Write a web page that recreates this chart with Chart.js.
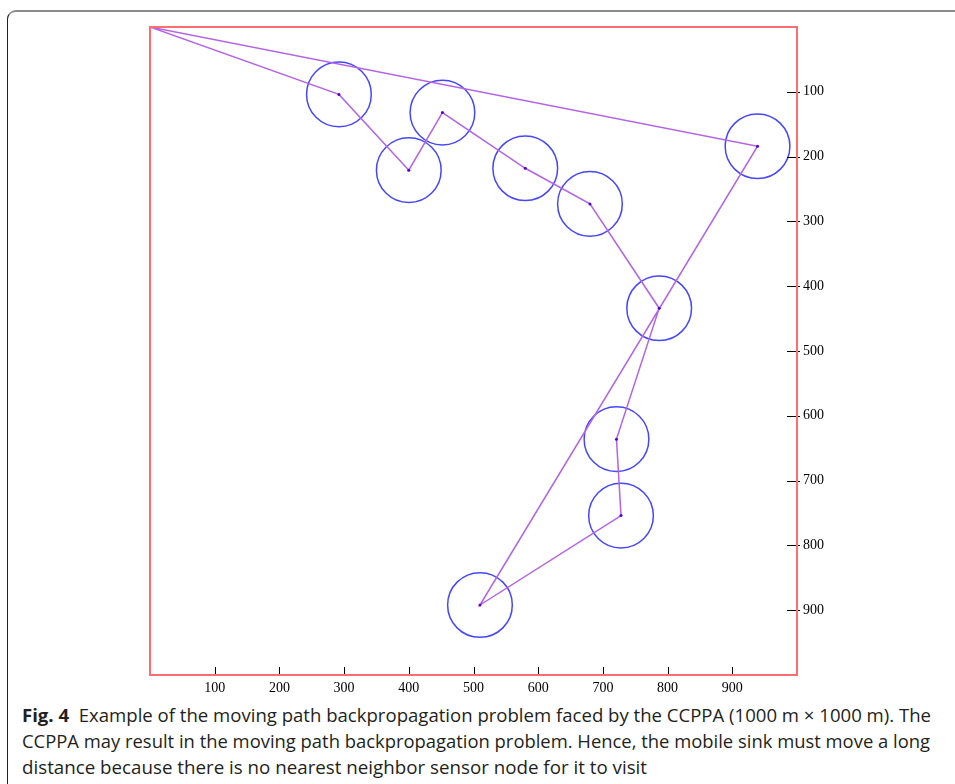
<!DOCTYPE html>
<html>
<head>
<meta charset="utf-8">
<script src="https://cdn.jsdelivr.net/npm/chart.js@4.4.1/dist/chart.umd.min.js"></script>
<style>
  body { margin: 0; background: #fff; width: 955px; height: 784px; overflow: hidden; position: relative; }
  #frame { position: absolute; left: 7px; top: 10px; width: 960px; height: 790px;
           border-top: 2px solid #8a8a8a; border-left: 1px solid #222; border-top-left-radius: 9px; }
  #chartBox { position: absolute; left: 0; top: 0; width: 955px; height: 700px; }
  .cap { position: absolute; left: 22px; white-space: nowrap; font-family: "Open Sans", sans-serif;
         font-size: 18px; color: #231f20; transform-origin: 0 0; }
  .cap b { font-weight: 700; }
</style>
</head>
<body>
<div id="frame"></div>
<div id="chartBox"><canvas id="pathChart" width="955" height="700"></canvas></div>
<div class="cap" id="cap1" data-w="909" style="top:703px"><b>Fig. 4</b>&nbsp;&nbsp;Example of the moving path backpropagation problem faced by the CCPPA (1000 m × 1000 m). The</div>
<div class="cap" id="cap2" data-w="908" style="top:729px">CCPPA may result in the moving path backpropagation problem. Hence, the mobile sink must move a long</div>
<div class="cap" id="cap3" data-w="625" style="top:755px">distance because there is no nearest neighbor sensor node for it to visit</div>
<script>
"use strict";

// sink start position
const sinkX = 0;
const sinkY = 0;

// sensor node (cluster head) positions, in metres
const nodeX = [292, 400, 452, 580, 680, 787, 721, 728, 510, 939];
const nodeY = [104, 221, 132, 218, 273, 434, 636, 754, 892, 184];

// communication range of each node, in metres
const nodeRange = 50;

// order the mobile sink visits the nodes
const visitOrder = [0, 1, 2, 3, 4, 5, 6, 7, 8, 9];

// tick labels on both axes
const xTicks = [100, 200, 300, 400, 500, 600, 700, 800, 900];
const yTicks = [100, 200, 300, 400, 500, 600, 700, 800, 900];

// build the path: sink -> nodes -> back to sink
const pathPoints = [{ x: sinkX, y: sinkY }];
visitOrder.forEach(function(i) {
    pathPoints.push({ x: nodeX[i], y: nodeY[i] });
});
pathPoints.push({ x: sinkX, y: sinkY });

const nodePoints = nodeX.map(function(x, i) {
    return { x: x, y: nodeY[i] };
});

// draws the red box and the inward tick marks
const frameAndTicks = {
    id: 'frameAndTicks',
    afterDraw: function(chart) {
        const c = chart.ctx;
        const a = chart.chartArea;
        const xs = chart.scales.x;
        const ys = chart.scales.y;
        c.save();
        c.strokeStyle = '#000';
        c.lineWidth = 1;
        c.beginPath();
        xTicks.forEach(function(v) {
            const px = Math.round(xs.getPixelForValue(v)) + 0.5;
            c.moveTo(px, a.bottom);
            c.lineTo(px, a.bottom - 8);
        });
        yTicks.forEach(function(v) {
            const py = Math.round(ys.getPixelForValue(v)) + 0.5;
            c.moveTo(a.right - 10, py);
            c.lineTo(a.right + 3, py);
        });
        c.stroke();
        c.strokeStyle = 'rgb(255, 110, 110)';
        c.lineWidth = 2;
        c.strokeRect(a.left, a.top, a.right - a.left, a.bottom - a.top);
        c.restore();
    }
};

const ctx = document.getElementById('pathChart').getContext('2d');
new Chart(ctx, {
    type: 'scatter',
    data: {
        datasets: [
            {
                label: 'Moving path',
                data: pathPoints,
                showLine: true,
                borderColor: 'rgb(180, 100, 230)',
                borderWidth: 1.5,
                pointRadius: 1.5,
                pointBackgroundColor: 'rgb(90, 0, 200)',
                pointBorderWidth: 0,
                order: 1
            },
            {
                label: 'Range',
                data: nodePoints,
                showLine: false,
                backgroundColor: 'rgba(0, 0, 0, 0)',
                borderColor: 'rgb(70, 70, 255)',
                borderWidth: 1.5,
                pointRadius: function(c) {
                    const xs = c.chart.scales.x;
                    return xs.getPixelForValue(nodeRange) - xs.getPixelForValue(0);
                },
                order: 2
            }
        ]
    },
    options: {
        responsive: false,
        animation: false,
        devicePixelRatio: 1,
        layout: { padding: { left: 150, top: 27, right: 0, bottom: 0 } },
        plugins: {
            legend: { display: false },
            tooltip: { enabled: false }
        },
        scales: {
            x: {
                type: 'linear',
                min: 0,
                max: 1000,
                grid: { display: false, drawTicks: false },
                border: { display: false },
                afterBuildTicks: function(s) { s.ticks = xTicks.map(function(v) { return { value: v }; }); },
                afterFit: function(s) { s.height = 25; },
                ticks: {
                    padding: 5,
                    maxRotation: 0,
                    autoSkip: false,
                    color: '#000',
                    font: { family: '"Liberation Serif", serif', size: 14 }
                }
            },
            y: {
                type: 'linear',
                position: 'right',
                reverse: true,
                min: 0,
                max: 1000,
                grid: { display: false, drawTicks: false },
                border: { display: false },
                afterBuildTicks: function(s) { s.ticks = yTicks.map(function(v) { return { value: v }; }); },
                afterFit: function(s) { s.width = 158; },
                ticks: {
                    padding: 6,
                    autoSkip: false,
                    color: '#000',
                    font: { family: '"Liberation Serif", serif', size: 14 }
                }
            }
        }
    },
    plugins: [frameAndTicks]
});

// squeeze caption lines to the width they have in the figure
document.querySelectorAll('.cap').forEach(function(el) {
    const w = el.getBoundingClientRect().width;
    const target = parseFloat(el.getAttribute('data-w'));
    el.style.transform = 'scaleX(' + (target / w) + ')';
});
</script>
</body>
</html>
